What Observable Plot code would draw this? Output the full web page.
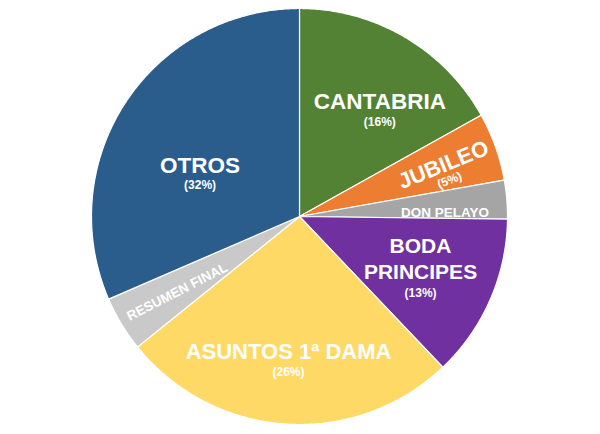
<!DOCTYPE html>
<html>
<head>
<meta charset="utf-8">
<script src="https://cdn.jsdelivr.net/npm/d3@7"></script>
<script src="https://cdn.jsdelivr.net/npm/@observablehq/plot@0.6"></script>
<style>
  html, body { margin: 0; padding: 0; background: #fff; }
  #chart svg { display: block; }
</style>
</head>
<body>
<div id="chart"></div>
<script>
// ---- data (clockwise from 12 o'clock) ----
const categories = ["CANTABRIA", "JUBILEO", "DON PELAYO", "BODA\nPRINCIPES", "ASUNTOS 1ª DAMA", "RESUMEN FINAL", "OTROS"];
const shares = [16.9, 5.3, 3.0, 12.7, 26.3, 4.3, 31.5];
const pctLabels = ["(16%)", "(5%)", "", "(13%)", "(26%)", "", "(32%)"];
const colors = ["#548235", "#ed7d31", "#a5a5a5", "#7030a0", "#ffd966", "#c9c9c9", "#2b5d8c"];

// ---- layout / style ----
const W = 600, H = 434, CX = 299, CY = 216, R = 208;
const labelStyle = [
  {da: 4.2,  r: 0.68,  rot: 0,   size: 22.5, gap: 22},
  {da: -0.7, r: 0.735, rot: -22, size: 22,   gap: 18},
  {da: 2.7,  r: 0.70,  rot: 0,   size: 13.5, gap: 0},
  {da: -4.7, r: 0.615, rot: 0,   size: 21,   gap: 35.5},
  {da: 0.9,  r: 0.647, rot: 0,   size: 22,   gap: 22},
  {da: -0.1, r: 0.69,  rot: -27, size: 13.5, gap: 0},
  {da: -5.6, r: 0.54,  rot: 0,   size: 22.5, gap: 21}
];

const total = d3.sum(shares);
const rad = deg => deg * Math.PI / 180;
let cum = 0;
const slices = categories.map((name, i) => {
  const a0 = cum / total * 360;
  cum += shares[i];
  const a1 = cum / total * 360;
  return {name, i, a0, a1, mid: (a0 + a1) / 2};
});

// polygon points for each slice (unit radius, y pointing down)
const pts = [];
for (const s of slices) {
  pts.push({i: s.i, x: 0, y: 0});
  const n = Math.max(2, Math.ceil((s.a1 - s.a0) / 0.5));
  for (let k = 0; k <= n; k++) {
    const a = rad(s.a0 + (s.a1 - s.a0) * k / n);
    pts.push({i: s.i, x: Math.sin(a), y: -Math.cos(a)});
  }
  pts.push({i: s.i, x: 0, y: 0});
}

const titles = slices.map(s => {
  const L = labelStyle[s.i];
  const a = rad(s.mid + L.da);
  return {text: s.name, x: Math.sin(a) * L.r, y: -Math.cos(a) * L.r, rot: L.rot, size: L.size};
});
const pcts = slices.filter(s => pctLabels[s.i]).map(s => {
  const L = labelStyle[s.i];
  const t = titles[s.i];
  const ro = rad(L.rot);
  return {
    text: pctLabels[s.i],
    x: t.x + (-L.gap * Math.sin(ro)) / R,
    y: t.y + (L.gap * Math.cos(ro)) / R,
    rot: L.rot
  };
});

const chart = Plot.plot({
  width: W,
  height: H,
  margin: 0,
  style: {background: "#fff", fontFamily: "'Liberation Sans', Arial, sans-serif"},
  x: {domain: [-CX / R, (W - CX) / R], axis: null},
  y: {domain: [-CY / R, (H - CY) / R], reverse: true, axis: null},
  color: {domain: d3.range(categories.length), range: colors},
  marks: [
    Plot.line(pts, {x: "x", y: "y", z: "i", fill: "i", stroke: "#ffffff", strokeWidth: 1.2, strokeLinejoin: "round", curve: "linear"}),
    Plot.text(titles, {
      x: "x", y: "y", text: "text", rotate: "rot", fontSize: "size",
      fill: "#ffffff", fontWeight: "bold", lineHeight: 1.24,
      textAnchor: "middle", lineAnchor: "middle"
    }),
    Plot.text(pcts, {
      x: "x", y: "y", text: "text", rotate: "rot", fontSize: 12,
      fill: "#ffffff", fontWeight: "bold",
      textAnchor: "middle", lineAnchor: "middle"
    })
  ]
});
document.getElementById("chart").appendChild(chart);
</script>
</body>
</html>
